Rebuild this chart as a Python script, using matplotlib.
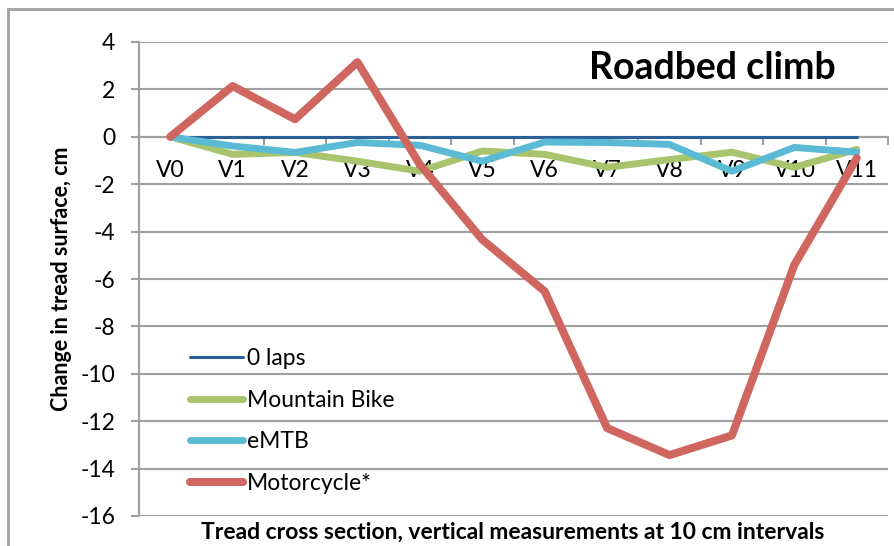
import matplotlib
matplotlib.use("Agg")
import matplotlib.pyplot as plt
from matplotlib.patches import Rectangle

plt.rcParams['font.family'] = ['Lato', 'DejaVu Sans']

# data
points = ['V0', 'V1', 'V2', 'V3', 'V4', 'V5', 'V6', 'V7', 'V8', 'V9', 'V10', 'V11']
zero_laps = [0, 0, 0, 0, 0, 0, 0, 0, 0, 0, 0, 0]
mountain_bike = [0, -0.74, -0.66, -1.03, -1.45, -0.6, -0.74, -1.29, -0.96, -0.65, -1.29, -0.53]
emtb = [0, -0.39, -0.66, -0.24, -0.36, -1.03, -0.22, -0.24, -0.32, -1.45, -0.45, -0.65]
motorcycle = [0, 2.14, 0.74, 3.15, -1.17, -4.34, -6.52, -12.29, -13.43, -12.6, -5.4, -0.9]
yticks = [4, 2, 0, -2, -4, -6, -8, -10, -12, -14, -16]

grid_c = '#a0a0a0'

fig = plt.figure(figsize=(8.94, 5.46), dpi=100)
ax = fig.add_axes([139/894, 1 - 516/546, (888-139)/894, (516-42)/546])

x = list(range(len(points)))
kw = dict(solid_capstyle='round', solid_joinstyle='round')
ax.plot(x, zero_laps, color='#2b5f96', lw=2.2, label='0 laps', zorder=3, **kw)
ax.plot(x, mountain_bike, color='#a8c46c', lw=5, label='Mountain Bike', zorder=4, **kw)
ax.plot(x, emtb, color='#5bbad4', lw=5, label='eMTB', zorder=5, **kw)
ax.plot(x, motorcycle, color='#cf6760', lw=5.8, label='Motorcycle*', zorder=6, **kw)

ax.set_xlim(-0.5, len(points) - 0.5)
ax.set_ylim(-16, 4)
ax.set_yticks(yticks)
ax.set_yticklabels([str(v) for v in yticks])
ax.yaxis.grid(True, color=grid_c, lw=1.5)
ax.set_axisbelow(True)

# category labels centred, tick marks between categories
ax.set_xticks(x)
ax.set_xticklabels(points)
ax.set_xticks([i - 0.5 for i in range(len(points) + 1)], minor=True)
ax.tick_params(axis='x', which='major', length=0, pad=17, labelsize=16.5)
ax.tick_params(axis='x', which='minor', length=6, width=1.5, color=grid_c, direction='out')
ax.tick_params(axis='y', length=6, width=1.5, color=grid_c, direction='out', pad=11, labelsize=16.5)

for s in ['top', 'right']:
    ax.spines[s].set_visible(False)
ax.spines['bottom'].set_position(('data', 0))
ax.spines['bottom'].set_color(grid_c)
ax.spines['bottom'].set_linewidth(1.5)
ax.spines['left'].set_color(grid_c)
ax.spines['left'].set_linewidth(1.5)

ax.set_ylabel('Change in tread surface, cm', fontsize=15.5, fontweight='bold', labelpad=6)
fig.text(513/894, 1 - 532/546, 'Tread cross section, vertical measurements at 10 cm intervals',
         ha='center', va='center', fontsize=16.5, fontweight='bold')
fig.text(712/894, 1 - 68/546, 'Roadbed climb', ha='center', va='center',
         fontsize=27, fontweight='bold')

leg = ax.legend(loc='upper left', bbox_to_anchor=(0.068, 0.3544), frameon=False,
                borderpad=0, borderaxespad=0,
                fontsize=16.5, handlelength=2.3, handletextpad=0.17, labelspacing=0.9)

# outer chart border
fig.patches.append(Rectangle((8/894, -0.1), 1.2, 1 - 9/546 + 0.1, transform=fig.transFigure,
                             fill=False, edgecolor=grid_c, lw=2))

fig.savefig('out.png', dpi=100)
